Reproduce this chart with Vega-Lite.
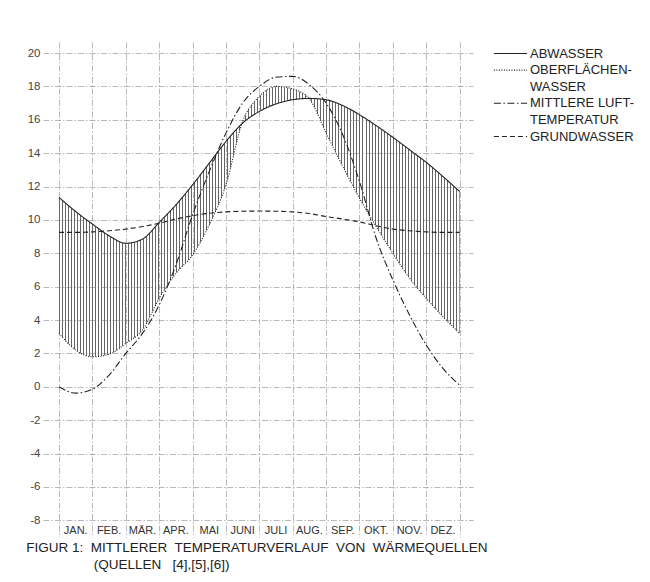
{
  "$schema": "https://vega.github.io/schema/vega-lite/v6.json",
  "autosize": "none",
  "width": 430,
  "height": 495,
  "padding": {"left": 43, "top": 42, "right": 177, "bottom": 45},
  "background": "white",
  "config": {
    "view": {"stroke": null},
    "font": "Liberation Sans",
    "axis": {"domain": false, "ticks": false, "tickSize": 0, "title": null, "gridColor": "#8a8a8a", "gridWidth": 0.6, "gridDash": [6, 2, 1.5, 2], "labelOverlap": false},
    "axisY": {"labelOverlap": false}
  },
  "title": {
    "text": ["FIGUR 1:\u00a0 MITTLERER\u00a0 TEMPERATURVERLAUF\u00a0 VON\u00a0 WÄRMEQUELLEN", "\u200b\u00a0\u00a0\u00a0\u00a0\u00a0\u00a0\u00a0\u00a0\u00a0\u00a0\u00a0\u00a0\u00a0\u00a0\u00a0\u00a0\u00a0\u00a0(QUELLEN\u00a0\u00a0 [4],[5],[6])"],
    "orient": "bottom", "anchor": "start", "dx": -1, "offset": 4, "baseline": "top",
    "fontSize": 13.5, "fontWeight": "normal", "color": "#222", "lineHeight": 17, "font": "Liberation Sans"
  },
  "data": {"values": [
    {"m": 0, "ABWASSER": 11.35, "OBERFLÄCHENWASSER": 3.2, "LUFTTEMPERATUR": 0.0, "GRUNDWASSER": 9.25},
    {"m": 0.5, "ABWASSER": 10.5, "OBERFLÄCHENWASSER": 2.2, "LUFTTEMPERATUR": -0.38, "GRUNDWASSER": 9.25},
    {"m": 1, "ABWASSER": 9.75, "OBERFLÄCHENWASSER": 1.8, "LUFTTEMPERATUR": -0.15, "GRUNDWASSER": 9.28},
    {"m": 1.5, "ABWASSER": 9.05, "OBERFLÄCHENWASSER": 1.95, "LUFTTEMPERATUR": 0.7, "GRUNDWASSER": 9.35},
    {"m": 2, "ABWASSER": 8.6, "OBERFLÄCHENWASSER": 2.6, "LUFTTEMPERATUR": 2.0, "GRUNDWASSER": 9.45},
    {"m": 2.5, "ABWASSER": 8.85, "OBERFLÄCHENWASSER": 3.4, "LUFTTEMPERATUR": 3.2, "GRUNDWASSER": 9.6},
    {"m": 3, "ABWASSER": 9.85, "OBERFLÄCHENWASSER": 5.3, "LUFTTEMPERATUR": 4.9, "GRUNDWASSER": 9.8},
    {"m": 3.5, "ABWASSER": 10.9, "OBERFLÄCHENWASSER": 6.8, "LUFTTEMPERATUR": 7.3, "GRUNDWASSER": 10.05},
    {"m": 4, "ABWASSER": 12.1, "OBERFLÄCHENWASSER": 7.9, "LUFTTEMPERATUR": 10.3, "GRUNDWASSER": 10.25},
    {"m": 4.5, "ABWASSER": 13.4, "OBERFLÄCHENWASSER": 9.7, "LUFTTEMPERATUR": 12.9, "GRUNDWASSER": 10.4},
    {"m": 5, "ABWASSER": 14.7, "OBERFLÄCHENWASSER": 12.1, "LUFTTEMPERATUR": 15.2, "GRUNDWASSER": 10.48},
    {"m": 5.5, "ABWASSER": 15.8, "OBERFLÄCHENWASSER": 15.9, "LUFTTEMPERATUR": 17.0, "GRUNDWASSER": 10.52},
    {"m": 6, "ABWASSER": 16.5, "OBERFLÄCHENWASSER": 17.4, "LUFTTEMPERATUR": 18.0, "GRUNDWASSER": 10.53},
    {"m": 6.5, "ABWASSER": 16.95, "OBERFLÄCHENWASSER": 18.0, "LUFTTEMPERATUR": 18.55, "GRUNDWASSER": 10.52},
    {"m": 7, "ABWASSER": 17.2, "OBERFLÄCHENWASSER": 17.85, "LUFTTEMPERATUR": 18.6, "GRUNDWASSER": 10.48},
    {"m": 7.5, "ABWASSER": 17.28, "OBERFLÄCHENWASSER": 17.25, "LUFTTEMPERATUR": 18.1, "GRUNDWASSER": 10.38},
    {"m": 8, "ABWASSER": 17.2, "OBERFLÄCHENWASSER": 15.2, "LUFTTEMPERATUR": 17.0, "GRUNDWASSER": 10.2},
    {"m": 8.5, "ABWASSER": 16.85, "OBERFLÄCHENWASSER": 13.2, "LUFTTEMPERATUR": 15.1, "GRUNDWASSER": 10.05},
    {"m": 9, "ABWASSER": 16.3, "OBERFLÄCHENWASSER": 11.3, "LUFTTEMPERATUR": 12.3, "GRUNDWASSER": 9.88},
    {"m": 9.5, "ABWASSER": 15.65, "OBERFLÄCHENWASSER": 9.6, "LUFTTEMPERATUR": 8.9, "GRUNDWASSER": 9.65},
    {"m": 10, "ABWASSER": 14.95, "OBERFLÄCHENWASSER": 8.0, "LUFTTEMPERATUR": 6.4, "GRUNDWASSER": 9.45},
    {"m": 10.5, "ABWASSER": 14.2, "OBERFLÄCHENWASSER": 6.5, "LUFTTEMPERATUR": 4.3, "GRUNDWASSER": 9.35},
    {"m": 11, "ABWASSER": 13.45, "OBERFLÄCHENWASSER": 5.3, "LUFTTEMPERATUR": 2.5, "GRUNDWASSER": 9.28},
    {"m": 11.5, "ABWASSER": 12.6, "OBERFLÄCHENWASSER": 4.2, "LUFTTEMPERATUR": 1.1, "GRUNDWASSER": 9.25},
    {"m": 12, "ABWASSER": 11.7, "OBERFLÄCHENWASSER": 3.2, "LUFTTEMPERATUR": 0.1, "GRUNDWASSER": 9.25}
  ]},
  "layer": [
    {
      "mark": {"type": "area", "interpolate": "monotone", "fill": {"gradient": "linear", "x1": 0, "y1": 0, "x2": 1, "y2": 0, "stops": [
        {"offset":0,"color":"#666"},{"offset":0.0025,"color":"#666"},{"offset":0.0025,"color":"#fff0"},{"offset":0.0075,"color":"#fff0"},{"offset":0.0075,"color":"#666"},{"offset":0.01,"color":"#666"},{"offset":0.01,"color":"#fff0"},{"offset":0.015,"color":"#fff0"},{"offset":0.015,"color":"#666"},{"offset":0.0175,"color":"#666"},{"offset":0.0175,"color":"#fff0"},{"offset":0.0225,"color":"#fff0"},{"offset":0.0225,"color":"#666"},{"offset":0.025,"color":"#666"},{"offset":0.025,"color":"#fff0"},{"offset":0.03,"color":"#fff0"},
        {"offset":0.03,"color":"#666"},{"offset":0.0325,"color":"#666"},{"offset":0.0325,"color":"#fff0"},{"offset":0.0375,"color":"#fff0"},{"offset":0.0375,"color":"#666"},{"offset":0.04,"color":"#666"},{"offset":0.04,"color":"#fff0"},{"offset":0.045,"color":"#fff0"},{"offset":0.045,"color":"#666"},{"offset":0.0475,"color":"#666"},{"offset":0.0475,"color":"#fff0"},{"offset":0.0525,"color":"#fff0"},{"offset":0.0525,"color":"#666"},{"offset":0.055,"color":"#666"},{"offset":0.055,"color":"#fff0"},{"offset":0.06,"color":"#fff0"},
        {"offset":0.06,"color":"#666"},{"offset":0.0625,"color":"#666"},{"offset":0.0625,"color":"#fff0"},{"offset":0.0675,"color":"#fff0"},{"offset":0.0675,"color":"#666"},{"offset":0.07,"color":"#666"},{"offset":0.07,"color":"#fff0"},{"offset":0.075,"color":"#fff0"},{"offset":0.075,"color":"#666"},{"offset":0.0775,"color":"#666"},{"offset":0.0775,"color":"#fff0"},{"offset":0.0825,"color":"#fff0"},{"offset":0.0825,"color":"#666"},{"offset":0.085,"color":"#666"},{"offset":0.085,"color":"#fff0"},{"offset":0.09,"color":"#fff0"},
        {"offset":0.09,"color":"#666"},{"offset":0.0925,"color":"#666"},{"offset":0.0925,"color":"#fff0"},{"offset":0.0975,"color":"#fff0"},{"offset":0.0975,"color":"#666"},{"offset":0.1,"color":"#666"},{"offset":0.1,"color":"#fff0"},{"offset":0.105,"color":"#fff0"},{"offset":0.105,"color":"#666"},{"offset":0.1075,"color":"#666"},{"offset":0.1075,"color":"#fff0"},{"offset":0.1125,"color":"#fff0"},{"offset":0.1125,"color":"#666"},{"offset":0.115,"color":"#666"},{"offset":0.115,"color":"#fff0"},{"offset":0.12,"color":"#fff0"},
        {"offset":0.12,"color":"#666"},{"offset":0.1225,"color":"#666"},{"offset":0.1225,"color":"#fff0"},{"offset":0.1275,"color":"#fff0"},{"offset":0.1275,"color":"#666"},{"offset":0.13,"color":"#666"},{"offset":0.13,"color":"#fff0"},{"offset":0.135,"color":"#fff0"},{"offset":0.135,"color":"#666"},{"offset":0.1375,"color":"#666"},{"offset":0.1375,"color":"#fff0"},{"offset":0.1425,"color":"#fff0"},{"offset":0.1425,"color":"#666"},{"offset":0.145,"color":"#666"},{"offset":0.145,"color":"#fff0"},{"offset":0.15,"color":"#fff0"},
        {"offset":0.15,"color":"#666"},{"offset":0.1525,"color":"#666"},{"offset":0.1525,"color":"#fff0"},{"offset":0.1575,"color":"#fff0"},{"offset":0.1575,"color":"#666"},{"offset":0.16,"color":"#666"},{"offset":0.16,"color":"#fff0"},{"offset":0.165,"color":"#fff0"},{"offset":0.165,"color":"#666"},{"offset":0.1675,"color":"#666"},{"offset":0.1675,"color":"#fff0"},{"offset":0.1725,"color":"#fff0"},{"offset":0.1725,"color":"#666"},{"offset":0.175,"color":"#666"},{"offset":0.175,"color":"#fff0"},{"offset":0.18,"color":"#fff0"},
        {"offset":0.18,"color":"#666"},{"offset":0.1825,"color":"#666"},{"offset":0.1825,"color":"#fff0"},{"offset":0.1875,"color":"#fff0"},{"offset":0.1875,"color":"#666"},{"offset":0.19,"color":"#666"},{"offset":0.19,"color":"#fff0"},{"offset":0.195,"color":"#fff0"},{"offset":0.195,"color":"#666"},{"offset":0.1975,"color":"#666"},{"offset":0.1975,"color":"#fff0"},{"offset":0.2025,"color":"#fff0"},{"offset":0.2025,"color":"#666"},{"offset":0.205,"color":"#666"},{"offset":0.205,"color":"#fff0"},{"offset":0.21,"color":"#fff0"},
        {"offset":0.21,"color":"#666"},{"offset":0.2125,"color":"#666"},{"offset":0.2125,"color":"#fff0"},{"offset":0.2175,"color":"#fff0"},{"offset":0.2175,"color":"#666"},{"offset":0.22,"color":"#666"},{"offset":0.22,"color":"#fff0"},{"offset":0.225,"color":"#fff0"},{"offset":0.225,"color":"#666"},{"offset":0.2275,"color":"#666"},{"offset":0.2275,"color":"#fff0"},{"offset":0.2325,"color":"#fff0"},{"offset":0.2325,"color":"#666"},{"offset":0.235,"color":"#666"},{"offset":0.235,"color":"#fff0"},{"offset":0.24,"color":"#fff0"},
        {"offset":0.24,"color":"#666"},{"offset":0.2425,"color":"#666"},{"offset":0.2425,"color":"#fff0"},{"offset":0.2475,"color":"#fff0"},{"offset":0.2475,"color":"#666"},{"offset":0.25,"color":"#666"},{"offset":0.25,"color":"#fff0"},{"offset":0.255,"color":"#fff0"},{"offset":0.255,"color":"#666"},{"offset":0.2575,"color":"#666"},{"offset":0.2575,"color":"#fff0"},{"offset":0.2625,"color":"#fff0"},{"offset":0.2625,"color":"#666"},{"offset":0.265,"color":"#666"},{"offset":0.265,"color":"#fff0"},{"offset":0.27,"color":"#fff0"},
        {"offset":0.27,"color":"#666"},{"offset":0.2725,"color":"#666"},{"offset":0.2725,"color":"#fff0"},{"offset":0.2775,"color":"#fff0"},{"offset":0.2775,"color":"#666"},{"offset":0.28,"color":"#666"},{"offset":0.28,"color":"#fff0"},{"offset":0.285,"color":"#fff0"},{"offset":0.285,"color":"#666"},{"offset":0.2875,"color":"#666"},{"offset":0.2875,"color":"#fff0"},{"offset":0.2925,"color":"#fff0"},{"offset":0.2925,"color":"#666"},{"offset":0.295,"color":"#666"},{"offset":0.295,"color":"#fff0"},{"offset":0.3,"color":"#fff0"},
        {"offset":0.3,"color":"#666"},{"offset":0.3025,"color":"#666"},{"offset":0.3025,"color":"#fff0"},{"offset":0.3075,"color":"#fff0"},{"offset":0.3075,"color":"#666"},{"offset":0.31,"color":"#666"},{"offset":0.31,"color":"#fff0"},{"offset":0.315,"color":"#fff0"},{"offset":0.315,"color":"#666"},{"offset":0.3175,"color":"#666"},{"offset":0.3175,"color":"#fff0"},{"offset":0.3225,"color":"#fff0"},{"offset":0.3225,"color":"#666"},{"offset":0.325,"color":"#666"},{"offset":0.325,"color":"#fff0"},{"offset":0.33,"color":"#fff0"},
        {"offset":0.33,"color":"#666"},{"offset":0.3325,"color":"#666"},{"offset":0.3325,"color":"#fff0"},{"offset":0.3375,"color":"#fff0"},{"offset":0.3375,"color":"#666"},{"offset":0.34,"color":"#666"},{"offset":0.34,"color":"#fff0"},{"offset":0.345,"color":"#fff0"},{"offset":0.345,"color":"#666"},{"offset":0.3475,"color":"#666"},{"offset":0.3475,"color":"#fff0"},{"offset":0.3525,"color":"#fff0"},{"offset":0.3525,"color":"#666"},{"offset":0.355,"color":"#666"},{"offset":0.355,"color":"#fff0"},{"offset":0.36,"color":"#fff0"},
        {"offset":0.36,"color":"#666"},{"offset":0.3625,"color":"#666"},{"offset":0.3625,"color":"#fff0"},{"offset":0.3675,"color":"#fff0"},{"offset":0.3675,"color":"#666"},{"offset":0.37,"color":"#666"},{"offset":0.37,"color":"#fff0"},{"offset":0.375,"color":"#fff0"},{"offset":0.375,"color":"#666"},{"offset":0.3775,"color":"#666"},{"offset":0.3775,"color":"#fff0"},{"offset":0.3825,"color":"#fff0"},{"offset":0.3825,"color":"#666"},{"offset":0.385,"color":"#666"},{"offset":0.385,"color":"#fff0"},{"offset":0.39,"color":"#fff0"},
        {"offset":0.39,"color":"#666"},{"offset":0.3925,"color":"#666"},{"offset":0.3925,"color":"#fff0"},{"offset":0.3975,"color":"#fff0"},{"offset":0.3975,"color":"#666"},{"offset":0.4,"color":"#666"},{"offset":0.4,"color":"#fff0"},{"offset":0.405,"color":"#fff0"},{"offset":0.405,"color":"#666"},{"offset":0.4075,"color":"#666"},{"offset":0.4075,"color":"#fff0"},{"offset":0.4125,"color":"#fff0"},{"offset":0.4125,"color":"#666"},{"offset":0.415,"color":"#666"},{"offset":0.415,"color":"#fff0"},{"offset":0.42,"color":"#fff0"},
        {"offset":0.42,"color":"#666"},{"offset":0.4225,"color":"#666"},{"offset":0.4225,"color":"#fff0"},{"offset":0.4275,"color":"#fff0"},{"offset":0.4275,"color":"#666"},{"offset":0.43,"color":"#666"},{"offset":0.43,"color":"#fff0"},{"offset":0.435,"color":"#fff0"},{"offset":0.435,"color":"#666"},{"offset":0.4375,"color":"#666"},{"offset":0.4375,"color":"#fff0"},{"offset":0.4425,"color":"#fff0"},{"offset":0.4425,"color":"#666"},{"offset":0.445,"color":"#666"},{"offset":0.445,"color":"#fff0"},{"offset":0.45,"color":"#fff0"},
        {"offset":0.45,"color":"#666"},{"offset":0.4525,"color":"#666"},{"offset":0.4525,"color":"#fff0"},{"offset":0.4575,"color":"#fff0"},{"offset":0.4575,"color":"#666"},{"offset":0.46,"color":"#666"},{"offset":0.46,"color":"#fff0"},{"offset":0.465,"color":"#fff0"},{"offset":0.465,"color":"#666"},{"offset":0.4675,"color":"#666"},{"offset":0.4675,"color":"#fff0"},{"offset":0.4725,"color":"#fff0"},{"offset":0.4725,"color":"#666"},{"offset":0.475,"color":"#666"},{"offset":0.475,"color":"#fff0"},{"offset":0.48,"color":"#fff0"},
        {"offset":0.48,"color":"#666"},{"offset":0.4825,"color":"#666"},{"offset":0.4825,"color":"#fff0"},{"offset":0.4875,"color":"#fff0"},{"offset":0.4875,"color":"#666"},{"offset":0.49,"color":"#666"},{"offset":0.49,"color":"#fff0"},{"offset":0.495,"color":"#fff0"},{"offset":0.495,"color":"#666"},{"offset":0.4975,"color":"#666"},{"offset":0.4975,"color":"#fff0"},{"offset":0.5025,"color":"#fff0"},{"offset":0.5025,"color":"#666"},{"offset":0.505,"color":"#666"},{"offset":0.505,"color":"#fff0"},{"offset":0.51,"color":"#fff0"},
        {"offset":0.51,"color":"#666"},{"offset":0.5125,"color":"#666"},{"offset":0.5125,"color":"#fff0"},{"offset":0.5175,"color":"#fff0"},{"offset":0.5175,"color":"#666"},{"offset":0.52,"color":"#666"},{"offset":0.52,"color":"#fff0"},{"offset":0.525,"color":"#fff0"},{"offset":0.525,"color":"#666"},{"offset":0.5275,"color":"#666"},{"offset":0.5275,"color":"#fff0"},{"offset":0.5325,"color":"#fff0"},{"offset":0.5325,"color":"#666"},{"offset":0.535,"color":"#666"},{"offset":0.535,"color":"#fff0"},{"offset":0.54,"color":"#fff0"},
        {"offset":0.54,"color":"#666"},{"offset":0.5425,"color":"#666"},{"offset":0.5425,"color":"#fff0"},{"offset":0.5475,"color":"#fff0"},{"offset":0.5475,"color":"#666"},{"offset":0.55,"color":"#666"},{"offset":0.55,"color":"#fff0"},{"offset":0.555,"color":"#fff0"},{"offset":0.555,"color":"#666"},{"offset":0.5575,"color":"#666"},{"offset":0.5575,"color":"#fff0"},{"offset":0.5625,"color":"#fff0"},{"offset":0.5625,"color":"#666"},{"offset":0.565,"color":"#666"},{"offset":0.565,"color":"#fff0"},{"offset":0.57,"color":"#fff0"},
        {"offset":0.57,"color":"#666"},{"offset":0.5725,"color":"#666"},{"offset":0.5725,"color":"#fff0"},{"offset":0.5775,"color":"#fff0"},{"offset":0.5775,"color":"#666"},{"offset":0.58,"color":"#666"},{"offset":0.58,"color":"#fff0"},{"offset":0.585,"color":"#fff0"},{"offset":0.585,"color":"#666"},{"offset":0.5875,"color":"#666"},{"offset":0.5875,"color":"#fff0"},{"offset":0.5925,"color":"#fff0"},{"offset":0.5925,"color":"#666"},{"offset":0.595,"color":"#666"},{"offset":0.595,"color":"#fff0"},{"offset":0.6,"color":"#fff0"},
        {"offset":0.6,"color":"#666"},{"offset":0.6025,"color":"#666"},{"offset":0.6025,"color":"#fff0"},{"offset":0.6075,"color":"#fff0"},{"offset":0.6075,"color":"#666"},{"offset":0.61,"color":"#666"},{"offset":0.61,"color":"#fff0"},{"offset":0.615,"color":"#fff0"},{"offset":0.615,"color":"#666"},{"offset":0.6175,"color":"#666"},{"offset":0.6175,"color":"#fff0"},{"offset":0.6225,"color":"#fff0"},{"offset":0.6225,"color":"#666"},{"offset":0.625,"color":"#666"},{"offset":0.625,"color":"#fff0"},{"offset":0.63,"color":"#fff0"},
        {"offset":0.63,"color":"#666"},{"offset":0.6325,"color":"#666"},{"offset":0.6325,"color":"#fff0"},{"offset":0.6375,"color":"#fff0"},{"offset":0.6375,"color":"#666"},{"offset":0.64,"color":"#666"},{"offset":0.64,"color":"#fff0"},{"offset":0.645,"color":"#fff0"},{"offset":0.645,"color":"#666"},{"offset":0.6475,"color":"#666"},{"offset":0.6475,"color":"#fff0"},{"offset":0.6525,"color":"#fff0"},{"offset":0.6525,"color":"#666"},{"offset":0.655,"color":"#666"},{"offset":0.655,"color":"#fff0"},{"offset":0.66,"color":"#fff0"},
        {"offset":0.66,"color":"#666"},{"offset":0.6625,"color":"#666"},{"offset":0.6625,"color":"#fff0"},{"offset":0.6675,"color":"#fff0"},{"offset":0.6675,"color":"#666"},{"offset":0.67,"color":"#666"},{"offset":0.67,"color":"#fff0"},{"offset":0.675,"color":"#fff0"},{"offset":0.675,"color":"#666"},{"offset":0.6775,"color":"#666"},{"offset":0.6775,"color":"#fff0"},{"offset":0.6825,"color":"#fff0"},{"offset":0.6825,"color":"#666"},{"offset":0.685,"color":"#666"},{"offset":0.685,"color":"#fff0"},{"offset":0.69,"color":"#fff0"},
        {"offset":0.69,"color":"#666"},{"offset":0.6925,"color":"#666"},{"offset":0.6925,"color":"#fff0"},{"offset":0.6975,"color":"#fff0"},{"offset":0.6975,"color":"#666"},{"offset":0.7,"color":"#666"},{"offset":0.7,"color":"#fff0"},{"offset":0.705,"color":"#fff0"},{"offset":0.705,"color":"#666"},{"offset":0.7075,"color":"#666"},{"offset":0.7075,"color":"#fff0"},{"offset":0.7125,"color":"#fff0"},{"offset":0.7125,"color":"#666"},{"offset":0.715,"color":"#666"},{"offset":0.715,"color":"#fff0"},{"offset":0.72,"color":"#fff0"},
        {"offset":0.72,"color":"#666"},{"offset":0.7225,"color":"#666"},{"offset":0.7225,"color":"#fff0"},{"offset":0.7275,"color":"#fff0"},{"offset":0.7275,"color":"#666"},{"offset":0.73,"color":"#666"},{"offset":0.73,"color":"#fff0"},{"offset":0.735,"color":"#fff0"},{"offset":0.735,"color":"#666"},{"offset":0.7375,"color":"#666"},{"offset":0.7375,"color":"#fff0"},{"offset":0.7425,"color":"#fff0"},{"offset":0.7425,"color":"#666"},{"offset":0.745,"color":"#666"},{"offset":0.745,"color":"#fff0"},{"offset":0.75,"color":"#fff0"},
        {"offset":0.75,"color":"#666"},{"offset":0.7525,"color":"#666"},{"offset":0.7525,"color":"#fff0"},{"offset":0.7575,"color":"#fff0"},{"offset":0.7575,"color":"#666"},{"offset":0.76,"color":"#666"},{"offset":0.76,"color":"#fff0"},{"offset":0.765,"color":"#fff0"},{"offset":0.765,"color":"#666"},{"offset":0.7675,"color":"#666"},{"offset":0.7675,"color":"#fff0"},{"offset":0.7725,"color":"#fff0"},{"offset":0.7725,"color":"#666"},{"offset":0.775,"color":"#666"},{"offset":0.775,"color":"#fff0"},{"offset":0.78,"color":"#fff0"},
        {"offset":0.78,"color":"#666"},{"offset":0.7825,"color":"#666"},{"offset":0.7825,"color":"#fff0"},{"offset":0.7875,"color":"#fff0"},{"offset":0.7875,"color":"#666"},{"offset":0.79,"color":"#666"},{"offset":0.79,"color":"#fff0"},{"offset":0.795,"color":"#fff0"},{"offset":0.795,"color":"#666"},{"offset":0.7975,"color":"#666"},{"offset":0.7975,"color":"#fff0"},{"offset":0.8025,"color":"#fff0"},{"offset":0.8025,"color":"#666"},{"offset":0.805,"color":"#666"},{"offset":0.805,"color":"#fff0"},{"offset":0.81,"color":"#fff0"},
        {"offset":0.81,"color":"#666"},{"offset":0.8125,"color":"#666"},{"offset":0.8125,"color":"#fff0"},{"offset":0.8175,"color":"#fff0"},{"offset":0.8175,"color":"#666"},{"offset":0.82,"color":"#666"},{"offset":0.82,"color":"#fff0"},{"offset":0.825,"color":"#fff0"},{"offset":0.825,"color":"#666"},{"offset":0.8275,"color":"#666"},{"offset":0.8275,"color":"#fff0"},{"offset":0.8325,"color":"#fff0"},{"offset":0.8325,"color":"#666"},{"offset":0.835,"color":"#666"},{"offset":0.835,"color":"#fff0"},{"offset":0.84,"color":"#fff0"},
        {"offset":0.84,"color":"#666"},{"offset":0.8425,"color":"#666"},{"offset":0.8425,"color":"#fff0"},{"offset":0.8475,"color":"#fff0"},{"offset":0.8475,"color":"#666"},{"offset":0.85,"color":"#666"},{"offset":0.85,"color":"#fff0"},{"offset":0.855,"color":"#fff0"},{"offset":0.855,"color":"#666"},{"offset":0.8575,"color":"#666"},{"offset":0.8575,"color":"#fff0"},{"offset":0.8625,"color":"#fff0"},{"offset":0.8625,"color":"#666"},{"offset":0.865,"color":"#666"},{"offset":0.865,"color":"#fff0"},{"offset":0.87,"color":"#fff0"},
        {"offset":0.87,"color":"#666"},{"offset":0.8725,"color":"#666"},{"offset":0.8725,"color":"#fff0"},{"offset":0.8775,"color":"#fff0"},{"offset":0.8775,"color":"#666"},{"offset":0.88,"color":"#666"},{"offset":0.88,"color":"#fff0"},{"offset":0.885,"color":"#fff0"},{"offset":0.885,"color":"#666"},{"offset":0.8875,"color":"#666"},{"offset":0.8875,"color":"#fff0"},{"offset":0.8925,"color":"#fff0"},{"offset":0.8925,"color":"#666"},{"offset":0.895,"color":"#666"},{"offset":0.895,"color":"#fff0"},{"offset":0.9,"color":"#fff0"},
        {"offset":0.9,"color":"#666"},{"offset":0.9025,"color":"#666"},{"offset":0.9025,"color":"#fff0"},{"offset":0.9075,"color":"#fff0"},{"offset":0.9075,"color":"#666"},{"offset":0.91,"color":"#666"},{"offset":0.91,"color":"#fff0"},{"offset":0.915,"color":"#fff0"},{"offset":0.915,"color":"#666"},{"offset":0.9175,"color":"#666"},{"offset":0.9175,"color":"#fff0"},{"offset":0.9225,"color":"#fff0"},{"offset":0.9225,"color":"#666"},{"offset":0.925,"color":"#666"},{"offset":0.925,"color":"#fff0"},{"offset":0.93,"color":"#fff0"},
        {"offset":0.93,"color":"#666"},{"offset":0.9325,"color":"#666"},{"offset":0.9325,"color":"#fff0"},{"offset":0.9375,"color":"#fff0"},{"offset":0.9375,"color":"#666"},{"offset":0.94,"color":"#666"},{"offset":0.94,"color":"#fff0"},{"offset":0.945,"color":"#fff0"},{"offset":0.945,"color":"#666"},{"offset":0.9475,"color":"#666"},{"offset":0.9475,"color":"#fff0"},{"offset":0.9525,"color":"#fff0"},{"offset":0.9525,"color":"#666"},{"offset":0.955,"color":"#666"},{"offset":0.955,"color":"#fff0"},{"offset":0.96,"color":"#fff0"},
        {"offset":0.96,"color":"#666"},{"offset":0.9625,"color":"#666"},{"offset":0.9625,"color":"#fff0"},{"offset":0.9675,"color":"#fff0"},{"offset":0.9675,"color":"#666"},{"offset":0.97,"color":"#666"},{"offset":0.97,"color":"#fff0"},{"offset":0.975,"color":"#fff0"},{"offset":0.975,"color":"#666"},{"offset":0.9775,"color":"#666"},{"offset":0.9775,"color":"#fff0"},{"offset":0.9825,"color":"#fff0"},{"offset":0.9825,"color":"#666"},{"offset":0.985,"color":"#666"},{"offset":0.985,"color":"#fff0"},{"offset":0.99,"color":"#fff0"},
        {"offset":0.99,"color":"#666"},{"offset":0.9925,"color":"#666"},{"offset":0.9925,"color":"#fff0"},{"offset":0.9975,"color":"#fff0"},{"offset":0.9975,"color":"#666"},{"offset":1,"color":"#666"}
      ]}},
      "encoding": {
        "x": {"field": "m", "type": "quantitative", "scale": {"domain": [-0.48, 12.4], "nice": false, "zero": false},
              "axis": {"values": [0,1,2,3,4,5,6,7,8,9,10,11,12], "labels": false, "grid": true}},
        "y": {"field": "ABWASSER", "type": "quantitative", "scale": {"domain": [-9.0, 20.66], "nice": false, "zero": false},
              "axis": {"values": [-8,-6,-4,-2,0,2,4,6,8,10,12,14,16,18,20], "grid": true, "labelPadding": 3, "labelFontSize": 11.5, "labelColor": "#444", "labelOverlap": false,
                       "labelExpr": "datum.value < 0 ? '-' + abs(datum.value) : '' + datum.value"}},
        "y2": {"field": "OBERFLÄCHENWASSER"}
      }
    },
    {
      "transform": [{"fold": ["ABWASSER", "OBERFLÄCHENWASSER", "LUFTTEMPERATUR", "GRUNDWASSER"], "as": ["serie", "wert"]}],
      "mark": {"type": "line", "interpolate": "monotone", "color": "#222", "strokeWidth": 1.1},
      "encoding": {
        "x": {"field": "m", "type": "quantitative",
              "axis": {"values": [0,1,2,3,4,5,6,7,8,9,10,11,12], "labels": false, "grid": true}},
        "y": {"field": "wert", "type": "quantitative",
              "axis": {"values": [-8,-6,-4,-2,0,2,4,6,8,10,12,14,16,18,20], "grid": true, "labelPadding": 3, "labelFontSize": 11.5, "labelColor": "#444", "labelOverlap": false,
                       "labelExpr": "datum.value < 0 ? '-' + abs(datum.value) : '' + datum.value"}},
        "detail": {"field": "serie"},
        "strokeDash": {"field": "serie", "type": "nominal",
          "scale": {"domain": ["ABWASSER", "OBERFLÄCHENWASSER", "z1", "LUFTTEMPERATUR", "z2", "GRUNDWASSER"], "range": [[1, 0], [1, 1.5], [0, 100], [7, 2.5, 1.5, 2.5], [0, 100], [5, 3]]},
          "legend": {"orient": "none", "legendX": 450, "legendY": 4, "title": null, "padding": 0,
            "symbolType": "stroke", "symbolSize": 1100, "symbolStrokeWidth": 1.1, "symbolStrokeColor": "#222",
            "labelFontSize": 13, "labelColor": "#222", "labelLimit": 0, "labelOffset": 2, "labelBaseline": "middle", "rowPadding": 1.6, "clipHeight": 15,
            "labelExpr": "datum.value == 'OBERFLÄCHENWASSER' ? 'OBERFLÄCHEN-' : datum.value == 'z1' ? 'WASSER' : datum.value == 'LUFTTEMPERATUR' ? 'MITTLERE LUFT-' : datum.value == 'z2' ? 'TEMPERATUR' : datum.value"}
        }
      }
    },
    {
      "data": {"values": [
        {"m": 0.5, "t": "JAN."}, {"m": 1.5, "t": "FEB."}, {"m": 2.5, "t": "MÄR."}, {"m": 3.5, "t": "APR."},
        {"m": 4.5, "t": "MAI"}, {"m": 5.5, "t": "JUNI"}, {"m": 6.5, "t": "JULI"}, {"m": 7.5, "t": "AUG."},
        {"m": 8.5, "t": "SEP."}, {"m": 9.5, "t": "OKT."}, {"m": 10.5, "t": "NOV."}, {"m": 11.5, "t": "DEZ."}
      ]},
      "mark": {"type": "text", "fontSize": 11, "color": "#333", "baseline": "middle", "align": "center"},
      "encoding": {
        "x": {"field": "m", "type": "quantitative",
              "axis": {"values": [0,1,2,3,4,5,6,7,8,9,10,11,12], "labels": false, "grid": true}},
        "y": {"datum": -8.62,
              "axis": {"values": [-8,-6,-4,-2,0,2,4,6,8,10,12,14,16,18,20], "grid": true, "labelPadding": 3, "labelFontSize": 11.5, "labelColor": "#444", "labelOverlap": false,
                       "labelExpr": "datum.value < 0 ? '-' + abs(datum.value) : '' + datum.value"}},
        "text": {"field": "t"}
      }
    }
  ]
}
